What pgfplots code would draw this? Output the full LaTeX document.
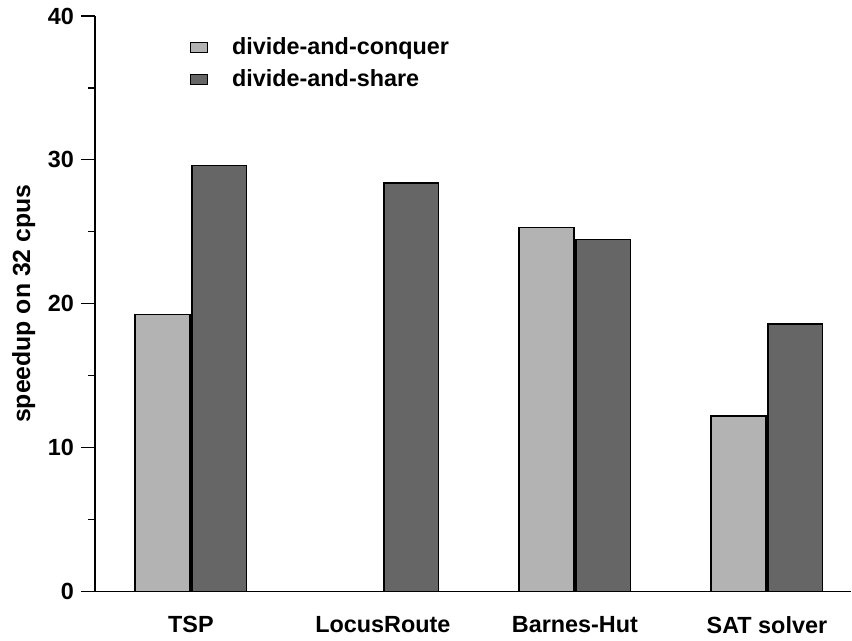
\documentclass[border=0pt]{standalone}
\usepackage{fontspec}
\setmainfont{Liberation Sans}
\usepackage{pgfplots}
\pgfplotsset{compat=1.18}
\definecolor{lightbar}{HTML}{B3B3B3}
\definecolor{darkbar}{HTML}{666666}
\begin{document}
\begin{tikzpicture}
\begin{axis}[
  at={(0,0)}, anchor=south west,
  scale only axis,
  width=378.5pt, height=288pt,
  ybar=1pt, bar width=27.5pt,
  xmin=-0.5, xmax=3.44,
  ymin=0, ymax=40,
  axis x line*=bottom, axis y line*=left,
  axis line style={line width=0.6pt, -},
  xtick=data,
  xticklabels={TSP, LocusRoute, Barnes-Hut, SAT solver},
  x tick style={draw=none},
  xticklabel style={yshift=-2pt},
  ytick={0,10,20,30,40},
  minor y tick num=1,
  tick align=outside,
  major tick length=7pt, minor tick length=3.5pt,
  y tick style={line width=0.6pt, black},
  tick label style={font=\fontsize{11.7}{14}\selectfont\bfseries},
  /pgf/number format/assume math mode=true,
  ylabel={speedup on 32 cpus},
  ylabel style={font=\fontsize{12.4}{14}\selectfont\bfseries, at={(axis description cs:-0.094,0.5)}, anchor=center, rotate=0},
  legend style={draw=none, fill=none, at={(axis description cs:0.125,0.97)}, anchor=north west,
    font=\fontsize{11.7}{14}\selectfont\bfseries, row sep=2pt, inner sep=0pt,
    /tikz/every even column/.append style={column sep=0pt}},
  legend cell align=left,
  legend image code/.code={\draw[#1, line width=0.6pt] (0pt,-2.5pt) rectangle (8.5pt,2.5pt);},
  every axis plot/.append style={draw=black, line width=0.6pt},
]
\addplot[fill=lightbar] coordinates {(0,19.24) (1,0) (2,25.3) (3,12.2)};
\addplot[fill=darkbar] coordinates {(0,29.6) (1,28.4) (2,24.45) (3,18.6)};
\legend{\hspace{10pt}divide-and-conquer, \hspace{10pt}divide-and-share}
\end{axis}
\path (-47.5pt,-24.5pt) rectangle (378.5pt,296pt);
\end{tikzpicture}
\end{document}
